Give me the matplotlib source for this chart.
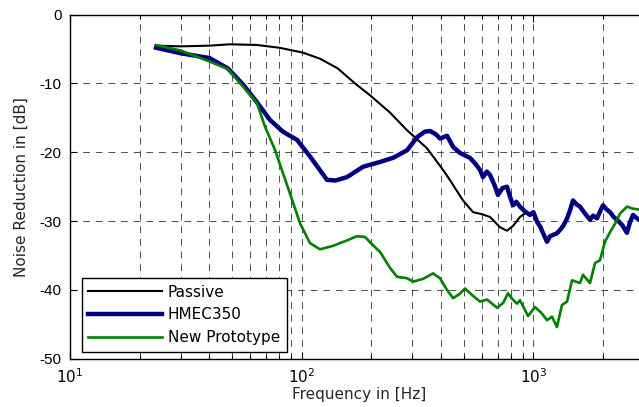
import matplotlib
matplotlib.use("Agg")
import matplotlib.pyplot as plt
from matplotlib.ticker import LogLocator, FixedLocator

plt.rcParams["axes.unicode_minus"] = False

# ---------------- data ----------------
passive_f = [23.5, 30, 40, 49, 64, 80, 101, 120, 143, 170, 197, 240, 285, 347,
             408, 424, 497, 549, 600, 650, 718, 769, 817, 875, 938]
passive_db = [-4.5, -4.6, -4.5, -4.3, -4.4, -4.8, -5.5, -6.4, -7.8, -10.0, -11.7,
              -14.2, -16.8, -19.4, -22.6, -23.4, -27.0, -28.7, -29.0, -29.4, -30.9,
              -31.4, -30.7, -29.4, -28.7]

hmec_f = [23.5, 30, 40, 48, 56, 64, 73, 83, 95.5, 108.6, 128.5, 140, 157, 184, 218,
          248, 285, 315, 340, 358, 380, 395, 424, 450, 482, 532, 560, 589, 606, 630,
          650, 680, 703, 735, 769, 795, 817, 845, 875, 920, 966, 1000, 1037, 1070,
          1099, 1145, 1180, 1216, 1260, 1303, 1350, 1397, 1440, 1483, 1540, 1589,
          1670, 1755, 1810, 1881, 1940, 1997, 2070, 2142, 2220, 2295, 2420, 2532,
          2610, 2690, 2850, 3020]
hmec_db = [-4.8, -5.6, -6.3, -7.8, -10.2, -12.7, -15.3, -17.0, -18.2, -20.6, -24.0,
           -24.1, -23.6, -22.1, -21.4, -20.8, -19.7, -17.8, -17.0, -16.9, -17.4,
           -18.0, -17.6, -19.2, -20.1, -20.8, -21.6, -22.6, -23.6, -22.8, -23.3,
           -24.8, -26.2, -25.2, -25.0, -26.6, -27.7, -27.2, -27.9, -28.6, -29.1,
           -28.7, -30.1, -30.8, -31.7, -33.0, -32.2, -32.0, -31.8, -31.3, -30.6,
           -29.6, -28.4, -27.0, -27.6, -27.9, -28.9, -29.8, -29.2, -29.6, -28.6,
           -27.7, -28.3, -28.7, -29.4, -29.8, -30.6, -31.7, -30.2, -29.1, -29.8,
           -29.5]

proto_f = [23.5, 30, 40, 48, 56, 64, 69.5, 76.8, 82.2, 89, 98.3, 108.6, 120,
           136.5, 157, 173, 187.6, 203, 218, 240.6, 258, 285, 302, 334, 369, 395,
           420, 450, 480, 507, 550, 589, 631, 697, 740, 777, 810, 849, 875, 948,
           1016, 1080, 1145, 1203, 1264, 1328, 1397, 1468, 1589, 1637, 1755, 1845,
           1937, 2037, 2142, 2250, 2365, 2535, 2690, 3020]
proto_db = [-4.4, -5.2, -6.8, -7.9, -10.5, -12.8, -16.3, -19.7, -22.6, -26.0, -30.3,
            -33.2, -34.1, -33.6, -32.8, -32.2, -32.3, -33.5, -34.5, -36.8, -38.1,
            -38.3, -38.8, -38.4, -37.6, -38.3, -39.8, -41.2, -40.6, -39.8, -40.9,
            -41.7, -41.4, -42.6, -41.9, -40.5, -41.3, -42.0, -41.5, -43.8, -42.5,
            -43.3, -44.4, -43.9, -45.4, -42.2, -41.7, -38.6, -39.0, -37.8, -39.0,
            -36.1, -35.7, -33.0, -31.6, -30.4, -28.9, -27.9, -28.2, -28.4]

series_labels = ["Passive", "HMEC350", "New Prototype"]
x_label = "Frequency in [Hz]"
y_label = "Noise Reduction in [dB]"

# ---------------- figure ----------------
W, H = 639, 407
fig = plt.figure(figsize=(W / 100, H / 100), dpi=100)
left_px, top_px, bottom_px = 70, 14.7, 358.7
decade_px = 231.7
xmax_log = 3.5
ax_w = (xmax_log - 1) * decade_px
ax = fig.add_axes([left_px / W, (H - bottom_px) / H, ax_w / W, (bottom_px - top_px) / H])

ax.plot(passive_f, passive_db, color="black", lw=1.5, label=series_labels[0])
ax.plot(hmec_f, hmec_db, color="#000080", lw=3.2, label=series_labels[1],
        solid_joinstyle="round")
ax.plot(proto_f, proto_db, color="#008000", lw=1.9, label=series_labels[2])

ax.set_xscale("log")
ax.set_xlim(10, 10 ** xmax_log)
ax.set_ylim(-50, 0)
ax.set_yticks([-50, -40, -30, -20, -10, 0])
ax.xaxis.set_major_locator(FixedLocator([10, 100, 1000]))
ax.xaxis.set_minor_locator(LogLocator(base=10, subs=range(2, 10), numticks=20))

grid_kw = dict(color="0.3", linestyle=(0, (7, 6)), linewidth=0.7)
ax.grid(True, which="major", axis="both", **grid_kw)
ax.grid(True, which="minor", axis="x", **grid_kw)
ax.set_axisbelow(True)

for s in ax.spines.values():
    s.set_linewidth(1.0)
ax.tick_params(which="both", direction="in", top=True, right=True, labelsize=11)
ax.tick_params(which="major", length=5, width=0.8)
ax.tick_params(which="minor", length=3, width=0.8)
ax.tick_params(axis="y", pad=6)
ax.tick_params(axis="x", pad=6)
for lab in ax.get_yticklabels():
    lab.set_fontfamily("Liberation Sans")

ax.set_xlabel(x_label, fontsize=11, color="0.15", labelpad=1)
ax.set_ylabel(y_label, fontsize=11, color="0.15", labelpad=8)

leg = ax.legend(loc="lower left", bbox_to_anchor=(0.02, 0.02), borderaxespad=0,
                fancybox=False, framealpha=1, edgecolor="black", fontsize=11,
                handlelength=4.8, handletextpad=0.4, labelspacing=0.5,
                borderpad=0.45)
leg.get_frame().set_linewidth(1.0)

fig.savefig("out.png", dpi=100)
